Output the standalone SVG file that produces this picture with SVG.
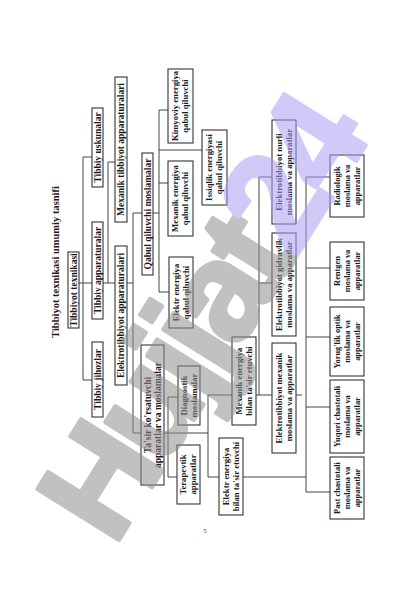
<svg xmlns="http://www.w3.org/2000/svg" width="420" height="596" viewBox="0 0 420 596">
<style>
.bx{fill:#fff;stroke:#333;stroke-width:1.1}
.t{font-family:"Liberation Serif","Times New Roman",serif;font-weight:bold;fill:#1a1a1a;text-anchor:middle}
.s1{font-size:9.5px}
.s2{font-size:8.7px}
.s3{font-size:8.4px}
.ln{fill:none;stroke:#444;stroke-width:1}
</style>
<rect width="420" height="596" fill="#fff"/>
<g id="connectors">
<path class="ln" d="M79,283H92 M83,157V380 M83,157H92 M83,380H92"/>
<path class="ln" d="M103,283H115 M108,162V283 M108,162H115"/>
<path class="ln" d="M127,283H133 M133,213V433 M133,213H142 M133,433H141"/>
<path class="ln" d="M153,213H159 M159,110V292 M159,110H168 M159,150H202 M159,183H168 M159,292H169"/>
<path class="ln" d="M164,433H208 M168,397V477 M168,397H178 M168,477H177"/>
<path class="ln" d="M208,395V477 M208,395H232 M208,477H219"/>
<path class="ln" d="M256,395H272 M259,177V395 M259,177H272 M259,283H272 M296,395H302"/>
<path class="ln" d="M243,477H306 M306,177V492 M306,177H330 M306,268H330 M306,337H330 M306,407H330 M306,492H330"/>
</g>
<g id="title"><text class="t" style="font-size:10.5px" transform="translate(59,262) rotate(-90)">Tibbiyot texnikasi umumiy tasnifi</text></g>
<g id="n-root"><rect class="bx" x="68" y="252" width="11" height="76"/><text class="t s1" transform="translate(73.5,290) rotate(-90)"><tspan x="0" y="3.1">Tibbiyot texnikasi</tspan></text></g>
<g id="n-jihoz"><rect class="bx" x="92" y="342" width="11" height="75"/><text class="t s1" transform="translate(97.5,379.5) rotate(-90)"><tspan x="0" y="3.1">Tibbiy jihozlar</tspan></text></g>
<g id="n-apparat"><rect class="bx" x="92" y="222" width="11" height="97"/><text class="t s1" transform="translate(97.5,270.5) rotate(-90)"><tspan x="0" y="3.1">Tibbiy apparaturalar</tspan></text></g>
<g id="n-uskuna"><rect class="bx" x="92" y="108" width="11" height="79"/><text class="t s1" transform="translate(97.5,147.5) rotate(-90)"><tspan x="0" y="3.1">Tibbiy uskunalar</tspan></text></g>
<g id="n-elektro"><rect class="bx" x="115" y="246" width="12" height="139"/><text class="t s1" transform="translate(121,315.5) rotate(-90)"><tspan x="0" y="3.1">Elektrotibbiyot apparaturalari</tspan></text></g>
<g id="n-mextib"><rect class="bx" x="115" y="77" width="12" height="145"/><text class="t s1" transform="translate(121,149.5) rotate(-90)"><tspan x="0" y="3.1">Mexanik tibbiyot apparaturalari</tspan></text></g>
<g id="n-tasir"><rect class="bx" x="141" y="345" width="23" height="140"/><text class="t s1" transform="translate(152.5,415) rotate(-90)"><tspan x="0" y="-1.9">Ta'sir ko'rsatuvchi</tspan><tspan x="0" y="8.1">apparatlar va moslamalar</tspan></text></g>
<g id="n-qabul"><rect class="bx" x="142" y="153" width="11" height="122"/><text class="t s1" transform="translate(147.5,214) rotate(-90)"><tspan x="0" y="3.1">Qabul qiluvchi moslamalar</tspan></text></g>
<g id="n-kimyo"><rect class="bx" x="168" y="69" width="25" height="74"/><text class="t s2" transform="translate(180.5,106) rotate(-90)"><tspan x="0" y="-2.1">Kimyoviy energiya</tspan><tspan x="0" y="7.9">qabul qiluvchi</tspan></text></g>
<g id="n-mexqabul"><rect class="bx" x="168" y="161" width="25" height="75"/><text class="t s2" transform="translate(180.5,198.5) rotate(-90)"><tspan x="0" y="-2.1">Mexanik energiya</tspan><tspan x="0" y="7.9">qabul qiluvchi</tspan></text></g>
<g id="n-elekqabul"><rect class="bx" x="169" y="257" width="24" height="71"/><text class="t s2" transform="translate(181,292.5) rotate(-90)"><tspan x="0" y="-2.1">Elektr energiya</tspan><tspan x="0" y="7.9">qabul qiluvchi</tspan></text></g>
<g id="n-issiq"><rect class="bx" x="202" y="130" width="25" height="75"/><text class="t s2" transform="translate(214.5,167.5) rotate(-90)"><tspan x="0" y="-2.1">Issiqlik energiyasi</tspan><tspan x="0" y="7.9">qabul qiluvchi</tspan></text></g>
<g id="n-diag"><rect class="bx" x="178" y="366" width="22" height="59"/><text class="t s2" transform="translate(189,395.5) rotate(-90)"><tspan x="0" y="-2.1">Diagnostik</tspan><tspan x="0" y="7.9">moslamalar</tspan></text></g>
<g id="n-terap"><rect class="bx" x="177" y="445" width="23" height="59"/><text class="t s2" transform="translate(188.5,474.5) rotate(-90)"><tspan x="0" y="-2.1">Terapevtik</tspan><tspan x="0" y="7.9">apparatlar</tspan></text></g>
<g id="n-mextasir"><rect class="bx" x="232" y="337" width="24" height="88"/><text class="t s2" transform="translate(244,381) rotate(-90)"><tspan x="0" y="-2.1">Mexanik energiya</tspan><tspan x="0" y="7.9">bilan ta'sir etuvchi</tspan></text></g>
<g id="n-elektasir"><rect class="bx" x="219" y="438" width="24" height="77"/><text class="t s2" transform="translate(231,476.5) rotate(-90)"><tspan x="0" y="-2.1">Elektr energiya</tspan><tspan x="0" y="7.9">bilan ta'sir etuvchi</tspan></text></g>
<g id="n-nurli"><rect class="bx" x="272" y="120" width="24" height="104"/><text class="t s2" transform="translate(284,172) rotate(-90)"><tspan x="0" y="-2.1">Elektrotibbiyot nurli</tspan><tspan x="0" y="7.9">moslama va apparatlar</tspan></text></g>
<g id="n-gidr"><rect class="bx" x="272" y="233" width="24" height="103"/><text class="t s2" transform="translate(284,284.5) rotate(-90)"><tspan x="0" y="-2.1">Elektrotibbiyot gidravlik</tspan><tspan x="0" y="7.9">moslama va apparatlar</tspan></text></g>
<g id="n-mexet"><rect class="bx" x="272" y="343" width="24" height="110"/><text class="t s2" transform="translate(284,398) rotate(-90)"><tspan x="0" y="-2.1">Elektrotibbiyot mexanik</tspan><tspan x="0" y="7.9">moslama va apparatlar</tspan></text></g>
<g id="n-radio"><rect class="bx" x="330" y="155" width="34" height="62"/><text class="t s3" transform="translate(347,186) rotate(-90)"><tspan x="0" y="-7.2">Radiologik</tspan><tspan x="0" y="2.8">moslama va</tspan><tspan x="0" y="12.8">apparatlar</tspan></text></g>
<g id="n-rentgen"><rect class="bx" x="330" y="242" width="34" height="58"/><text class="t s3" transform="translate(347,271) rotate(-90)"><tspan x="0" y="-7.2">Rentgen</tspan><tspan x="0" y="2.8">moslama va</tspan><tspan x="0" y="12.8">apparatlar</tspan></text></g>
<g id="n-yorug"><rect class="bx" x="330" y="307" width="34" height="69"/><text class="t s3" transform="translate(347,341.5) rotate(-90)"><tspan x="0" y="-7.2">Yorug'lik optik</tspan><tspan x="0" y="2.8">moslama va</tspan><tspan x="0" y="12.8">apparatlar</tspan></text></g>
<g id="n-yuqori"><rect class="bx" x="330" y="380" width="34" height="73"/><text class="t s3" transform="translate(347,416.5) rotate(-90)"><tspan x="0" y="-7.2">Yuqori chastotali</tspan><tspan x="0" y="2.8">moslama va</tspan><tspan x="0" y="12.8">apparatlar</tspan></text></g>
<g id="n-past"><rect class="bx" x="330" y="457" width="34" height="62"/><text class="t s3" transform="translate(347,488) rotate(-90)"><tspan x="0" y="-7.2">Past chastotali</tspan><tspan x="0" y="2.8">moslama va</tspan><tspan x="0" y="12.8">apparatlar</tspan></text></g>
<g id="page-number"><text x="205" y="533" style="font-family:'Liberation Serif',serif;font-size:7px;fill:#444;text-anchor:middle">5</text></g>
<g id="watermark" opacity="0.55"><text transform="translate(114,548) rotate(-58)" style="font-family:'Liberation Sans',Arial,sans-serif;font-weight:bold;font-size:140px;letter-spacing:-8px;stroke-width:4px;stroke-linejoin:round"><tspan fill="#8f8f8f" stroke="#8f8f8f">Hujjat</tspan><tspan fill="#ac9ef2" stroke="#ac9ef2">24</tspan></text></g>
</svg>
